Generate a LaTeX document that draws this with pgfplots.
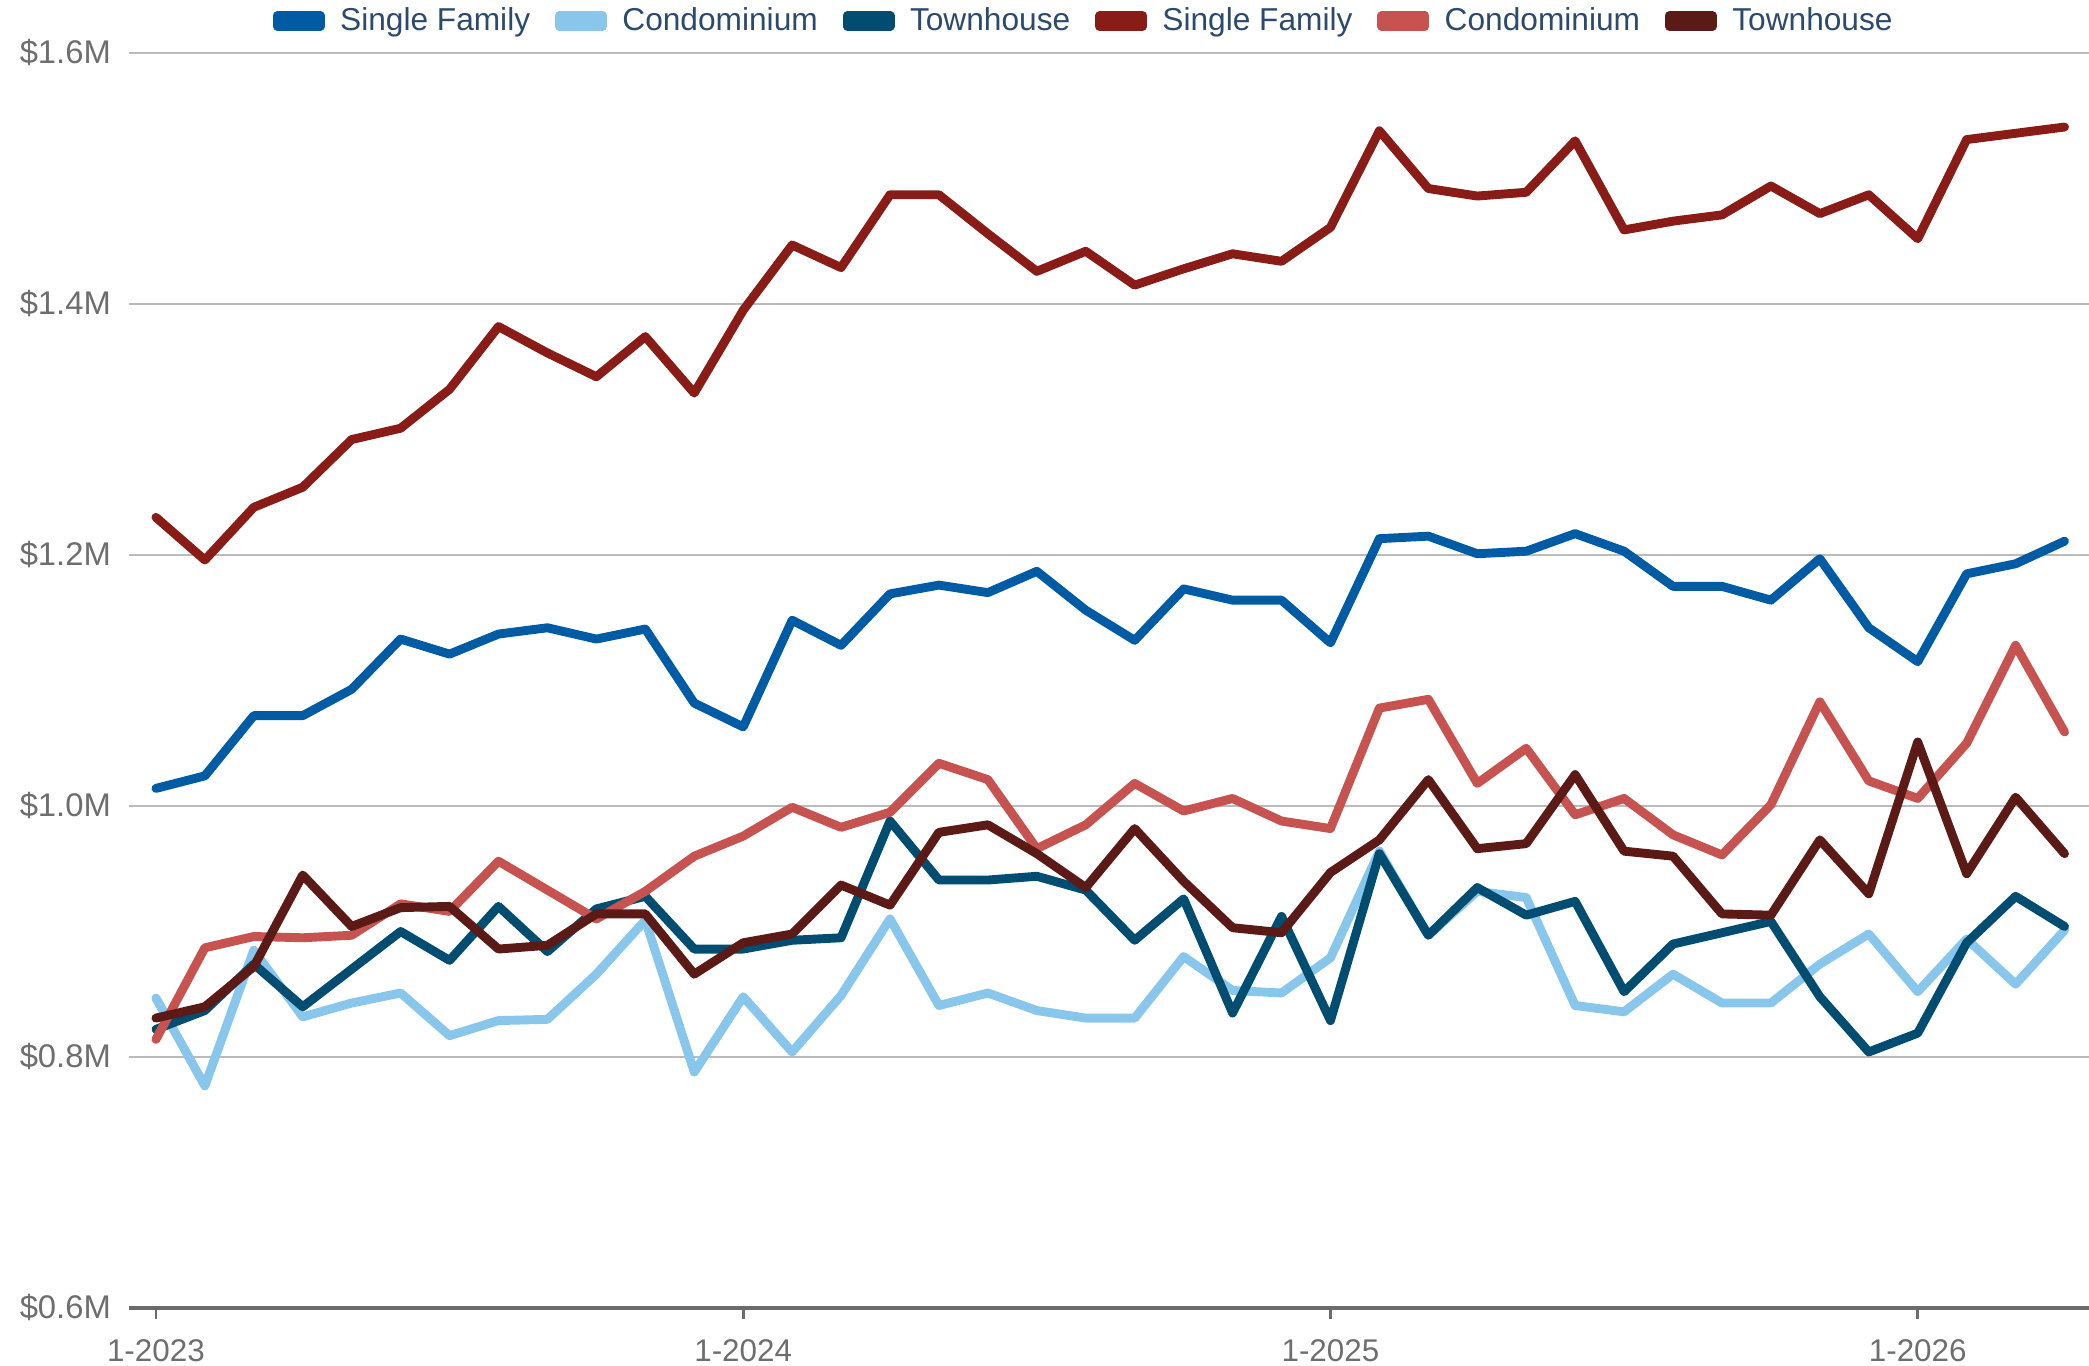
\documentclass[border=0pt]{standalone}
\usepackage{fontspec}
\setmainfont{Liberation Sans}
\usepackage{pgfplots}
\usepackage{pgfplotstable}
\pgfplotsset{compat=1.18}
\definecolor{sfblue}{RGB}{0,91,165}
\definecolor{condoblue}{RGB}{136,198,236}
\definecolor{thteal}{RGB}{0,77,113}
\definecolor{sfred}{RGB}{138,28,23}
\definecolor{condored}{RGB}{198,83,80}
\definecolor{thred}{RGB}{91,26,21}
\definecolor{ticktext}{RGB}{110,110,110}
\definecolor{legtext}{RGB}{44,74,110}
\definecolor{gridc}{RGB}{187,187,187}
\definecolor{axisc}{RGB}{107,107,107}

\pgfplotstableread{
i  sfb    cb     tb     sfr    cr     tr
0  1.014  0.847  0.822  1.230  0.814  0.831
1  1.024  0.777  0.837  1.196  0.887  0.840
2  1.072  0.885  0.874  1.238  0.896  0.872
3  1.072  0.832  0.840  1.254  0.895  0.945
4  1.093  0.843  0.870  1.292  0.897  0.904
5  1.133  0.851  0.900  1.301  0.922  0.919
6  1.121  0.817  0.877  1.332  0.916  0.920
7  1.137  0.829  0.920  1.382  0.956  0.886
8  1.142  0.830  0.884  1.361  0.933  0.889
9  1.133  0.866  0.918  1.342  0.910  0.914
10 1.141  0.909  0.928  1.374  0.932  0.914
11 1.082  0.788  0.886  1.329  0.960  0.866
12 1.063  0.848  0.886  1.395  0.976  0.891
13 1.148  0.804  0.893  1.447  0.999  0.898
14 1.128  0.849  0.895  1.429  0.983  0.937
15 1.169  0.910  0.988  1.487  0.995  0.921
16 1.176  0.841  0.941  1.487  1.034  0.979
17 1.170  0.851  0.941  1.456  1.021  0.985
18 1.187  0.837  0.944  1.426  0.966  0.962
19 1.156  0.831  0.933  1.442  0.985  0.935
20 1.132  0.831  0.893  1.415  1.018  0.982
21 1.173  0.880  0.926  1.428  0.996  0.940
22 1.164  0.853  0.835  1.440  1.006  0.903
23 1.164  0.851  0.912  1.434  0.988  0.899
24 1.130  0.879  0.829  1.461  0.982  0.947
25 1.213  0.964  0.962  1.538  1.078  0.973
26 1.215  0.897  0.897  1.492  1.085  1.021
27 1.201  0.932  0.935  1.486  1.018  0.966
28 1.203  0.927  0.913  1.489  1.046  0.970
29 1.217  0.841  0.924  1.530  0.993  1.025
30 1.203  0.836  0.852  1.459  1.006  0.964
31 1.175  0.866  0.890  1.466  0.977  0.960
32 1.175  0.843  0.899  1.471  0.961  0.914
33 1.164  0.843  0.908  1.494  1.001  0.913
34 1.197  0.874  0.848  1.472  1.083  0.973
35 1.142  0.898  0.804  1.487  1.020  0.930
36 1.115  0.852  0.819  1.452  1.006  1.051
37 1.185  0.894  0.891  1.531  1.050  0.946
38 1.193  0.858  0.928  1.536  1.128  1.007
39 1.211  0.901  0.904  1.541  1.059  0.962
}\datatable

\begin{document}
\begin{tikzpicture}
\begin{axis}[
  name=ax,
  scale only axis,
  width=705.6pt, height=451.8pt,
  xmin=-0.55, xmax=39.5,
  ymin=0.6, ymax=1.6,
  axis x line*=bottom,
  axis y line*=left,
  x axis line style={color=axisc, line width=1.6pt, -},
  y axis line style={draw=none},
  xtick={0,12,24,36},
  xticklabels={1-2023,1-2024,1-2025,1-2026},
  xtick align=outside,
  xtick style={color=axisc, line width=1pt},
  ytick style={draw=none},
  xtick style={/pgfplots/major tick length=4pt},
  ytick={0.6,0.8,1.0,1.2,1.4,1.6},
  yticklabels={\$0.6M,\$0.8M,\$1.0M,\$1.2M,\$1.4M,\$1.6M},
  ymajorgrids,
  major grid style={color=gridc, line width=0.9pt},
  tick label style={font=\fontsize{11.3}{13}\selectfont, text=ticktext},
  xticklabel style={yshift=-3.5pt},
  yticklabel style={xshift=-3pt, font=\fontsize{11.8}{13}\selectfont},
  legend columns=6,
  legend style={
    draw=none, fill=none,
    at={(axis description cs:0.488,1)}, anchor=center, yshift=11.5pt,
    font=\fontsize{11.4}{13}\selectfont, text=legtext,
    /tikz/every even column/.append style={column sep=7pt},
  },
  legend image code/.code={\fill (0pt,-1.9pt) rectangle (15.5pt,1.9pt); \path (19pt,0pt);},
  every axis plot/.append style={line width=3.2pt, line cap=round, line join=round},
  clip=false,
]
\addplot[color=sfblue, no markers] table[x=i, y=sfb] {\datatable};
\addlegendentry{Single Family}
\addplot[color=condoblue, no markers] table[x=i, y=cb] {\datatable};
\addlegendentry{Condominium}
\addplot[color=thteal, no markers] table[x=i, y=tb] {\datatable};
\addlegendentry{Townhouse}
\addplot[color=sfred, no markers] table[x=i, y=sfr] {\datatable};
\addlegendentry{Single Family}
\addplot[color=condored, no markers] table[x=i, y=cr] {\datatable};
\addlegendentry{Condominium}
\addplot[color=thred, no markers] table[x=i, y=tr] {\datatable};
\addlegendentry{Townhouse}
\end{axis}
\pgfresetboundingbox
\useasboundingbox ([xshift=-46.44pt, yshift=-20.88pt]ax.south west) rectangle ([yshift=19.08pt]ax.north east);
\end{tikzpicture}
\end{document}
